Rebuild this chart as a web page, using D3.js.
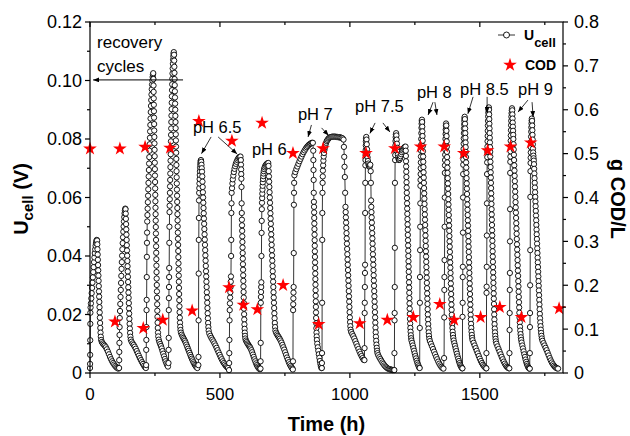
<!DOCTYPE html>
<html>
<head>
<meta charset="utf-8">
<script src="https://cdn.jsdelivr.net/npm/d3@7"></script>
<style>
  body { margin: 0; background: #fff; }
  svg { display: block; }
  text { font-family: "Liberation Sans", Arial, sans-serif; fill: #000; }
</style>
</head>
<body>
<svg id="chart" width="630" height="436"></svg>
<script>
// Cell voltage U_cell (V) versus time (h), one array of [time, voltage] per feeding cycle
const cycle01 = [[0,0.0017],[0.3,0.0031],[0.6,0.0062],[0.9,0.0112],[1.2,0.0168],[1.5,0.0206],[2.2,0.0224],
  [3.5,0.0238],[5,0.0255],[6.5,0.0273],[8,0.0291],[9.5,0.0309],[11,0.0327],[12.5,0.0345],[14,0.0362],[15.5,0.0379],[17,0.0395],[18.5,0.0410],[20,0.0423],[21.5,0.0435],[23,0.0444],[24.5,0.0451],[26,0.0455],[27.3,0.0453],
  [28.2,0.0440],[28.9,0.0423],[29.6,0.0405],[30.3,0.0387],[31,0.0369],[31.7,0.0351],[32.4,0.0333],[33.1,0.0315],[33.8,0.0297],[34.5,0.0279],[35.2,0.0261],[35.9,0.0243],[36.6,0.0225],[37.3,0.0207],[38,0.0189],[38.8,0.0171],[39.6,0.0154],[40.5,0.0138],[41.6,0.0124],[43,0.0113],
  [45.5,0.0106],[49,0.0101],[53,0.0097],[57,0.0093],[61,0.0088],[65,0.0081],[69,0.0073],[73,0.0064],[77,0.0055],[81,0.0047],[85,0.0040],[89,0.0034],[93,0.0029],[97,0.0024],[101,0.0020],[105,0.0017],[109,0.0015]];
const cycle02 = [[112,0.0017],[112.4,0.0044],[112.8,0.0072],[113.2,0.0103],[113.6,0.0130],[114,0.0157],[114.5,0.0188],
  [115.5,0.0212],[116.5,0.0236],[117.5,0.0260],[118.5,0.0284],[119.5,0.0308],[120.5,0.0332],[121.5,0.0356],[122.5,0.0379],[123.6,0.0401],[124.7,0.0423],[125.8,0.0444],[127,0.0464],[128.2,0.0483],[129.4,0.0501],[130.6,0.0518],[131.8,0.0533],[133,0.0546],[134.3,0.0556],[135.6,0.0562],
  [136.8,0.0560],[137.5,0.0545],[138.2,0.0527],[138.9,0.0509],[139.6,0.0491],[140.3,0.0473],[141,0.0455],[141.7,0.0437],[142.4,0.0419],[143.1,0.0401],[143.8,0.0383],[144.5,0.0365],[145.2,0.0347],[145.9,0.0329],[146.6,0.0311],[147.3,0.0293],[148,0.0275],[148.7,0.0257],[149.4,0.0239],[150.1,0.0221],[150.8,0.0203],[151.6,0.0185],[152.4,0.0168],[153.3,0.0152],[154.3,0.0137],[155.5,0.0124],[157,0.0114],
  [160,0.0107],[164,0.0101],[168,0.0096],[172,0.0090],[176,0.0083],[180,0.0075],[184,0.0067],[188,0.0059],[192,0.0051],[196,0.0044],[200,0.0037],[204,0.0031],[208,0.0025],[212,0.0020],[215,0.0017]];
const cycle03 = [[216,0.0027],[216.4,0.0079],[216.8,0.0113],[217.2,0.0157],[217.6,0.0215],[218,0.0250],[218.4,0.0328],[218.8,0.0397],[219.2,0.0445],[219.6,0.0480],
  [220.2,0.0518],[221,0.0540],[221.8,0.0562],[222.6,0.0584],[223.4,0.0606],[224.2,0.0628],[225,0.0650],[225.8,0.0672],[226.6,0.0694],[227.4,0.0716],[228.2,0.0738],[229,0.0760],[229.8,0.0782],[230.6,0.0804],[231.4,0.0826],[232.2,0.0848],[233,0.0870],[233.8,0.0892],[234.7,0.0913],[235.6,0.0933],[236.6,0.0952],[237.6,0.0970],[238.7,0.0986],[239.8,0.1000],[241,0.1012],[242.2,0.1021],[243.3,0.1025],
  [244,0.1005],[244.4,0.0983],[244.8,0.0961],[245.2,0.0939],[245.6,0.0917],[246,0.0895],[246.4,0.0873],[246.8,0.0851],[247.2,0.0829],[247.6,0.0807],[248,0.0785],[248.4,0.0763],[248.8,0.0741],[249.2,0.0719],[249.6,0.0697],[250,0.0675],[250.4,0.0653],[250.8,0.0631],[251.2,0.0609],[251.6,0.0587],[252,0.0565],[252.4,0.0543],[252.8,0.0521],[253.2,0.0499],[253.6,0.0477],[254,0.0455],[254.4,0.0433],[254.8,0.0411],[255.2,0.0389],[255.6,0.0367],[256,0.0345],[256.5,0.0323],[257,0.0301],[257.5,0.0279],[258,0.0257],[258.5,0.0235],[259,0.0213],[259.6,0.0192],[260.2,0.0172],[260.9,0.0154],[261.7,0.0138],[262.6,0.0125],
  [264.5,0.0114],[267,0.0106],[270,0.0099],[273,0.0092],[276,0.0084],[279,0.0075],[282,0.0066],[285,0.0057],[288,0.0048],[291,0.0040],[294,0.0033],[297,0.0027],[300,0.0022]];
const cycle04 = [[302,0.0034],[302.4,0.0079],[302.8,0.0120],[303.2,0.0215],[303.6,0.0256],[304,0.0294],[304.4,0.0328],[304.8,0.0359],[305.2,0.0445],[305.6,0.0500],[306,0.0550],
  [306.5,0.0572],[307,0.0594],[307.5,0.0616],[308,0.0638],[308.5,0.0660],[309,0.0682],[309.5,0.0704],[310,0.0726],[310.5,0.0748],[311,0.0770],[311.5,0.0792],[312,0.0814],[312.5,0.0836],[313,0.0858],[313.5,0.0880],[314,0.0902],[314.5,0.0924],[315,0.0946],[315.6,0.0967],[316.2,0.0987],[316.8,0.1006],[317.5,0.1024],[318.2,0.1041],[319,0.1057],[319.8,0.1071],[320.7,0.1083],[321.6,0.1092],[322.5,0.1097],
  [323.5,0.1088],[324,0.1068],[324.5,0.1047],[325,0.1026],[325.5,0.1005],[326,0.0984],[326.5,0.0963],[327,0.0942],[327.5,0.0921],[328,0.0900],[328.5,0.0879],[329,0.0858],[329.5,0.0837],[330,0.0816],[330.5,0.0795],[331,0.0774],[331.5,0.0753],[332,0.0732],[332.5,0.0711],[333,0.0690],[333.5,0.0669],[334,0.0648],[334.5,0.0627],[335,0.0606],[335.5,0.0585],[336,0.0564],[336.5,0.0543],[337,0.0522],[337.5,0.0501],[338,0.0480],[338.5,0.0459],[339,0.0438],[339.5,0.0417],[340,0.0396],[340.5,0.0375],[341,0.0354],[341.5,0.0333],[342,0.0312],[342.5,0.0291],[343,0.0270],[343.6,0.0249],[344.2,0.0228],[344.8,0.0208],[345.5,0.0189],[346.3,0.0172],[347.2,0.0158],[348.2,0.0147],
  [350,0.0138],[353,0.0131],[356,0.0125],[359,0.0120],[362,0.0115],[365,0.0110],[368,0.0104],[371,0.0097],[374,0.0090],[377,0.0083],[380,0.0076],[383,0.0069],[386,0.0062],[389,0.0055],[392,0.0049],[395,0.0043],[398,0.0037],[401,0.0032],[404,0.0027],[407,0.0023],[410,0.0020],[413,0.0017]];
const cycle05 = [[417,0.0027],[417.4,0.0055],[417.8,0.0180],[418.2,0.0340],[418.6,0.0455],[419,0.0530],[419.4,0.0590],
  [420,0.0616],[420.6,0.0632],[421.2,0.0648],[421.8,0.0663],[422.4,0.0677],[423,0.0690],[423.7,0.0702],[424.4,0.0712],[425.2,0.0720],[426,0.0726],[427,0.0728],
  [428,0.0722],[429,0.0712],[430,0.0700],[431,0.0688],[432,0.0672],[432.8,0.0654],[433.6,0.0636],[434.4,0.0618],[435.2,0.0600],[436,0.0582],[436.8,0.0564],[437.6,0.0546],[438.4,0.0528],[439.2,0.0510],[440,0.0492],[440.8,0.0474],[441.6,0.0456],[442.4,0.0438],[443.2,0.0420],[444,0.0402],[444.8,0.0384],[445.6,0.0366],[446.4,0.0348],[447.2,0.0330],[448,0.0312],[448.8,0.0294],[449.6,0.0276],[450.4,0.0258],[451.2,0.0240],[452,0.0222],[452.8,0.0204],[453.6,0.0187],[454.5,0.0171],[455.5,0.0157],[456.6,0.0145],
  [459,0.0135],[463,0.0127],[467,0.0120],[471,0.0114],[475,0.0108],[479,0.0101],[483,0.0094],[487,0.0086],[491,0.0078],[495,0.0070],[499,0.0062],[503,0.0054],[507,0.0047],[511,0.0040],[515,0.0034],[519,0.0029],[523,0.0024],[527,0.0020],[531,0.0017]];
const cycle06 = [[535,0.0010],[535.5,0.0034],[536,0.0068],[536.5,0.0113],[537,0.0180],[537.6,0.0215],[538.4,0.0238],[539.2,0.0258],[540,0.0276],[540.8,0.0294],[541.6,0.0312],[542.4,0.0330],[543,0.0400],[543.5,0.0455],[544,0.0547],[544.5,0.0580],
  [545,0.0616],[546.5,0.0632],[548,0.0648],[549.5,0.0662],[551.5,0.0675],[553.5,0.0687],[556,0.0698],[558.5,0.0707],[561,0.0715],[564,0.0722],[567,0.0728],[570,0.0733],[573,0.0737],[576,0.0739],[579,0.0740],
  [580.5,0.0728],[581,0.0712],[581.5,0.0696],[582,0.0680],[582.5,0.0664],[583,0.0636],[583.5,0.0580],[584,0.0547],[584.5,0.0524],[585,0.0505],[585.5,0.0486],[586,0.0467],[586.5,0.0448],[587,0.0429],[587.5,0.0410],[588,0.0391],[588.5,0.0372],[589,0.0353],[589.5,0.0334],[590,0.0315],[590.5,0.0296],[591,0.0277],[591.5,0.0258],[592,0.0239],[592.5,0.0220],[593,0.0201],[593.6,0.0183],[594.2,0.0166],[594.9,0.0151],[595.7,0.0138],[596.6,0.0127],[597.6,0.0118],
  [600,0.0111],[603,0.0106],[606,0.0101],[609,0.0097],[612,0.0093],[615,0.0089],[618,0.0084],[621,0.0078],[624,0.0071],[627,0.0063],[630,0.0055],[633,0.0047],[636,0.0040],[639,0.0033],[642,0.0027],[645,0.0022],[648,0.0018],[651,0.0015],[654,0.0013]];
const cycle07 = [[656,0.0015],[656.4,0.0040],[656.8,0.0103],[657.2,0.0240],[657.7,0.0260],[658.2,0.0277],[658.7,0.0294],[659.2,0.0310],[659.7,0.0400],[660.2,0.0479],[660.7,0.0520],[661.2,0.0560],
  [661.8,0.0582],[662.4,0.0598],[663,0.0613],[663.6,0.0627],[664.3,0.0640],[665,0.0652],[665.8,0.0663],[666.6,0.0673],[667.5,0.0682],[668.5,0.0690],[670,0.0697],[672,0.0703],[674.5,0.0708],[677,0.0712],[680,0.0715],[683,0.0717],[686,0.0718],
  [687,0.0708],[687.8,0.0690],[688.6,0.0672],[689.4,0.0654],[690.2,0.0636],[691,0.0618],[691.8,0.0600],[692.6,0.0582],[693.4,0.0564],[694.2,0.0546],[695,0.0528],[695.8,0.0510],[696.6,0.0492],[697.4,0.0474],[698.2,0.0456],[699,0.0438],[699.8,0.0420],[700.6,0.0402],[701.4,0.0384],[702.2,0.0366],[703,0.0348],[703.8,0.0330],[704.6,0.0312],[705.4,0.0294],[706.2,0.0276],[707,0.0258],[707.8,0.0240],[708.6,0.0222],[709.4,0.0204],[710.3,0.0187],[711.2,0.0171],[712.2,0.0157],[713.3,0.0145],
  [716,0.0138],[719.5,0.0132],[723,0.0127],[726.5,0.0122],[730,0.0117],[733.5,0.0111],[737,0.0104],[740.5,0.0096],[744,0.0088],[747.5,0.0080],[751,0.0071],[754.5,0.0062],[758,0.0053],[761.5,0.0045],[765,0.0037],[768.5,0.0030],[772,0.0024],[775.5,0.0019],[779,0.0015]];
const cycle08 = [[780.5,0.0012],[781,0.0040],[781.5,0.0215],[782,0.0235],[782.5,0.0255],[783,0.0275],[783.5,0.0294],[784,0.0410],[784.5,0.0575],[785,0.0616],[785.5,0.0650],
  [786.5,0.0676],[790,0.0687],[794,0.0697],[798,0.0706],[802,0.0715],[806,0.0724],[810,0.0732],[814,0.0740],[818,0.0748],[822,0.0755],[826,0.0761],[830,0.0767],[834,0.0772],[838,0.0776],[842,0.0780],[846,0.0783],[850,0.0785],[854,0.0787],[857.5,0.0787],
  [859,0.0760],[859.5,0.0728],[860,0.0694],[860.5,0.0660],[861,0.0616],[861.5,0.0585],[862,0.0568],[862.4,0.0549],[862.8,0.0530],[863.2,0.0511],[863.6,0.0492],[864,0.0473],[864.4,0.0454],[864.8,0.0435],[865.2,0.0416],[865.6,0.0397],[866,0.0378],[866.4,0.0359],[866.8,0.0340],[867.2,0.0321],[867.6,0.0302],[868,0.0283],[868.4,0.0264],[868.8,0.0245],[869.2,0.0226],[869.6,0.0207],[870,0.0188],[870.5,0.0170],[871,0.0153],[871.6,0.0138],[872.3,0.0125],[873,0.0113],
  [874.5,0.0100],[876.5,0.0088],[878.5,0.0076],[880.5,0.0064],[882.5,0.0052],[884.5,0.0041],[886.5,0.0031],[888.5,0.0023],[890.5,0.0017]];
const cycle09 = [[892,0.0017],[892.4,0.0034],[892.8,0.0068],[893.2,0.0240],[893.6,0.0455],[894,0.0547],[894.5,0.0616],
  [895,0.0650],[895.6,0.0672],[896.2,0.0692],[897,0.0710],[898,0.0726],[899.2,0.0740],[900.6,0.0752],[902.2,0.0763],[904,0.0772],[906,0.0780],[908.5,0.0787],[911,0.0793],[914,0.0797],[917,0.0801],[920,0.0804],[924,0.0806],[928,0.0807],[932,0.0808],[936,0.0808],[940,0.0808],[944,0.0808],[948,0.0807],[952,0.0807],[956,0.0806],[960,0.0806],[964,0.0805],[968,0.0804],[972,0.0802],[975.5,0.0798],
  [977,0.0773],[978.2,0.0739],[979.4,0.0705],[980.6,0.0670],[981.8,0.0616],[983,0.0568],[983.8,0.0550],[984.6,0.0532],[985.4,0.0514],[986.2,0.0496],[987,0.0478],[987.8,0.0460],[988.6,0.0442],[989.4,0.0424],[990.2,0.0406],[991,0.0388],[991.8,0.0370],[992.6,0.0352],[993.4,0.0334],[994.2,0.0316],[995,0.0298],[995.8,0.0280],[996.6,0.0262],[997.4,0.0244],[998.2,0.0226],[999,0.0208],[999.8,0.0190],[1000.7,0.0174],[1001.7,0.0160],[1002.8,0.0148],
  [1005,0.0140],[1009,0.0133],[1013,0.0126],[1017,0.0118],[1021,0.0109],[1025,0.0100],[1029,0.0091],[1033,0.0082],[1037,0.0073],[1041,0.0065],[1045,0.0058],[1049,0.0051],[1053,0.0045]];
const cycle10 = [[1056,0.0044],[1056.4,0.0085],[1056.8,0.0205],[1057.2,0.0240],[1057.6,0.0294],[1058,0.0342],[1058.4,0.0370],[1058.8,0.0547],[1059.2,0.0650],
  [1059.6,0.0710],[1060,0.0728],[1060.4,0.0745],[1060.8,0.0762],[1061.2,0.0778],[1061.6,0.0792],[1062.2,0.0802],[1063,0.0807],
  [1064,0.0798],[1065,0.0782],[1066,0.0765],[1067,0.0750],[1068.2,0.0737],[1069.5,0.0725],[1071,0.0716],[1072.5,0.0710],[1074,0.0706],[1075.5,0.0705],[1077,0.0708],[1078.5,0.0712],
  [1080,0.0690],[1080.8,0.0650],[1081.6,0.0590],[1082.4,0.0568],[1083.1,0.0550],[1083.8,0.0532],[1084.5,0.0514],[1085.2,0.0496],[1085.9,0.0478],[1086.6,0.0460],[1087.3,0.0442],[1088,0.0424],[1088.7,0.0406],[1089.4,0.0388],[1090.1,0.0370],[1090.8,0.0352],[1091.5,0.0334],[1092.2,0.0316],[1092.9,0.0298],[1093.6,0.0280],[1094.3,0.0262],[1095,0.0244],[1095.7,0.0226],[1096.4,0.0208],[1097.1,0.0190],[1097.8,0.0172],[1098.5,0.0155],[1099.3,0.0139],[1100.2,0.0124],[1101.2,0.0110],[1102.3,0.0097],[1103.5,0.0086],[1104.8,0.0076],[1106.2,0.0068],
  [1109,0.0061],[1113,0.0054],[1117,0.0048],[1121,0.0042],[1125,0.0036],[1129,0.0031],[1133,0.0026],[1137,0.0022],[1141,0.0019],[1145,0.0016],[1149,0.0014],[1153,0.0013],[1157,0.0012],[1161,0.0011],[1165,0.0010],[1169,0.0010]];
const cycle11 = [[1171,0.0010],[1171.4,0.0068],[1171.8,0.0180],[1172.2,0.0205],[1172.6,0.0294],[1173,0.0428],[1173.4,0.0650],
  [1174,0.0728],[1174.4,0.0745],[1174.8,0.0762],[1175.2,0.0778],[1175.6,0.0793],[1176.2,0.0806],[1177,0.0815],[1178,0.0820],
  [1179,0.0812],[1180,0.0798],[1181,0.0784],[1182,0.0770],[1183.2,0.0757],[1184.5,0.0746],[1186,0.0737],[1187.5,0.0731],[1189,0.0728],
  [1191,0.0730],[1193,0.0735],[1195,0.0741],[1197.5,0.0748],[1200,0.0755],[1202.5,0.0761],[1205,0.0766],[1208,0.0770],[1211,0.0773],[1214,0.0774],
  [1215,0.0760],[1215.5,0.0742],[1216,0.0724],[1216.5,0.0706],[1217,0.0688],[1217.5,0.0670],[1218,0.0652],[1218.5,0.0634],[1219,0.0616],[1219.5,0.0598],[1220,0.0580],[1220.5,0.0562],[1221,0.0544],[1221.5,0.0526],[1222,0.0508],[1222.5,0.0490],[1223,0.0472],[1223.5,0.0454],[1224,0.0436],[1224.5,0.0418],[1225,0.0400],[1225.5,0.0382],[1226,0.0364],[1226.5,0.0346],[1227,0.0328],[1227.5,0.0310],[1228,0.0292],[1228.5,0.0274],[1229,0.0256],[1229.5,0.0238],[1230,0.0220],[1230.6,0.0202],[1231.2,0.0185],[1231.9,0.0169],[1232.7,0.0154],[1233.6,0.0141],[1234.6,0.0129],[1235.7,0.0119],[1237,0.0111],
  [1239.5,0.0103],[1242,0.0094],[1244.5,0.0085],[1247,0.0076],[1249.5,0.0067],[1252,0.0058],[1254.5,0.0050],[1257,0.0042],[1259.5,0.0035],[1262,0.0029],[1264.5,0.0023],[1267,0.0018]];
const cycle12 = [[1268.5,0.0017],[1269,0.0154],[1269.4,0.0240],[1269.8,0.0328],[1270.2,0.0420],[1270.6,0.0500],[1271,0.0580],
  [1271.4,0.0640],[1271.8,0.0660],[1272.2,0.0680],[1272.6,0.0700],[1273,0.0720],[1273.4,0.0740],[1273.8,0.0760],[1274.2,0.0780],[1274.6,0.0800],[1275,0.0820],[1275.5,0.0838],[1276,0.0852],[1276.6,0.0862],[1277.3,0.0866],
  [1278,0.0858],[1278.5,0.0842],[1279,0.0826],[1279.5,0.0810],[1280,0.0794],[1280.6,0.0776],[1281.2,0.0758],[1281.8,0.0740],[1282.4,0.0722],[1283,0.0704],[1283.6,0.0686],[1284.2,0.0668],[1284.8,0.0650],[1285.4,0.0632],[1286,0.0614],[1286.6,0.0596],[1287.2,0.0578],[1287.8,0.0560],[1288.4,0.0542],[1289,0.0524],[1289.6,0.0506],[1290.2,0.0488],[1290.8,0.0470],[1291.4,0.0452],[1292,0.0434],[1292.6,0.0416],[1293.2,0.0398],[1293.8,0.0380],[1294.4,0.0362],[1295,0.0344],[1295.6,0.0326],[1296.2,0.0308],[1296.8,0.0290],[1297.4,0.0272],[1298,0.0254],[1298.6,0.0236],[1299.2,0.0218],[1299.9,0.0200],[1300.6,0.0183],[1301.4,0.0167],[1302.3,0.0152],[1303.3,0.0139],[1304.4,0.0127],[1305.6,0.0117],
  [1308,0.0109],[1312,0.0100],[1316,0.0091],[1320,0.0082],[1324,0.0073],[1328,0.0064],[1332,0.0055],[1336,0.0047],[1340,0.0039],[1344,0.0032],[1348,0.0026],[1352,0.0021],[1356,0.0017],[1360,0.0015]];
const cycle13 = [[1362.5,0.0051],[1363,0.0190],[1363.4,0.0284],[1363.8,0.0328],[1364.2,0.0386],[1364.6,0.0500],[1365,0.0600],[1365.4,0.0684],
  [1365.8,0.0710],[1366.2,0.0728],[1366.6,0.0746],[1367,0.0764],[1367.4,0.0782],[1367.8,0.0800],[1368.3,0.0817],[1368.8,0.0832],[1369.4,0.0845],[1370,0.0853],
  [1371,0.0846],[1371.5,0.0828],[1372,0.0810],[1372.5,0.0792],[1373,0.0774],[1373.5,0.0756],[1374,0.0738],[1374.6,0.0720],[1375.2,0.0702],[1375.8,0.0684],[1376.4,0.0666],[1377,0.0648],[1377.6,0.0630],[1378.2,0.0612],[1378.8,0.0594],[1379.4,0.0576],[1380,0.0558],[1380.6,0.0540],[1381.2,0.0522],[1381.8,0.0504],[1382.4,0.0486],[1383,0.0468],[1383.6,0.0450],[1384.2,0.0432],[1384.8,0.0414],[1385.4,0.0396],[1386,0.0378],[1386.6,0.0360],[1387.2,0.0342],[1387.8,0.0324],[1388.4,0.0306],[1389,0.0288],[1389.6,0.0270],[1390.2,0.0252],[1390.8,0.0234],[1391.4,0.0216],[1392.1,0.0199],[1392.8,0.0183],[1393.6,0.0168],[1394.5,0.0154],[1395.5,0.0141],[1396.6,0.0130],[1397.8,0.0120],
  [1399.5,0.0111],[1402,0.0102],[1404.5,0.0093],[1407,0.0084],[1409.5,0.0075],[1412,0.0066],[1414.5,0.0057],[1417,0.0049],[1419.5,0.0041],[1422,0.0034],[1424.5,0.0028],[1427,0.0023],[1429.5,0.0019],[1432,0.0016]];
const cycle14 = [[1433,0.0016],[1433.4,0.0192],[1433.8,0.0240],[1434.2,0.0328],[1434.6,0.0363],[1435,0.0480],[1435.4,0.0600],[1435.8,0.0680],
  [1436.2,0.0712],[1436.6,0.0730],[1437,0.0748],[1437.4,0.0766],[1437.8,0.0784],[1438.2,0.0802],[1438.7,0.0820],[1439.2,0.0836],[1439.8,0.0850],[1440.4,0.0862],[1441,0.0871],[1441.7,0.0876],
  [1442.5,0.0868],[1443,0.0852],[1443.5,0.0836],[1444,0.0820],[1444.5,0.0804],[1445,0.0788],[1445.5,0.0772],[1446,0.0756],[1446.6,0.0738],[1447.2,0.0720],[1447.8,0.0702],[1448.4,0.0684],[1449,0.0666],[1449.6,0.0648],[1450.2,0.0630],[1450.8,0.0612],[1451.4,0.0594],[1452,0.0576],[1452.6,0.0558],[1453.2,0.0540],[1453.8,0.0522],[1454.4,0.0504],[1455,0.0486],[1455.6,0.0468],[1456.2,0.0450],[1456.8,0.0432],[1457.4,0.0414],[1458,0.0396],[1458.6,0.0378],[1459.2,0.0360],[1459.8,0.0342],[1460.4,0.0324],[1461,0.0306],[1461.6,0.0288],[1462.2,0.0270],[1462.8,0.0252],[1463.4,0.0234],[1464,0.0216],[1464.7,0.0199],[1465.4,0.0183],[1466.2,0.0168],[1467.1,0.0154],[1468.1,0.0141],[1469.2,0.0130],[1470.4,0.0120],
  [1472,0.0112],[1476,0.0103],[1480,0.0094],[1484,0.0085],[1488,0.0076],[1492,0.0067],[1496,0.0058],[1500,0.0049],[1504,0.0041],[1508,0.0034],[1512,0.0028],[1516,0.0023],[1520,0.0019],[1524,0.0016]];
const cycle15 = [[1525,0.0016],[1525.4,0.0068],[1525.8,0.0274],[1526.2,0.0295],[1526.6,0.0363],[1527,0.0470],[1527.4,0.0580],[1527.8,0.0680],
  [1528.2,0.0720],[1528.6,0.0738],[1529,0.0756],[1529.4,0.0774],[1529.8,0.0792],[1530.2,0.0810],[1530.6,0.0828],[1531,0.0846],[1531.5,0.0862],[1532,0.0877],[1532.6,0.0890],[1533.2,0.0900],[1533.9,0.0906],[1534.7,0.0908],
  [1535.3,0.0900],[1535.8,0.0884],[1536.3,0.0868],[1536.8,0.0852],[1537.3,0.0836],[1537.8,0.0820],[1538.3,0.0804],[1538.8,0.0788],[1539.3,0.0772],[1539.8,0.0756],[1540.3,0.0740],[1540.8,0.0722],[1541.3,0.0704],[1541.8,0.0686],[1542.3,0.0668],[1542.8,0.0650],[1543.3,0.0632],[1543.8,0.0614],[1544.3,0.0596],[1544.8,0.0578],[1545.3,0.0560],[1545.8,0.0542],[1546.3,0.0524],[1546.8,0.0506],[1547.3,0.0488],[1547.8,0.0470],[1548.3,0.0452],[1548.8,0.0434],[1549.3,0.0416],[1549.8,0.0398],[1550.3,0.0380],[1550.8,0.0362],[1551.3,0.0344],[1551.8,0.0326],[1552.3,0.0308],[1552.8,0.0290],[1553.3,0.0272],[1553.8,0.0254],[1554.3,0.0236],[1554.8,0.0218],[1555.4,0.0200],[1556,0.0183],[1556.7,0.0167],[1557.5,0.0152],[1558.4,0.0139],[1559.4,0.0127],[1560.5,0.0117],[1561.7,0.0108],
  [1564,0.0100],[1568,0.0091],[1572,0.0082],[1576,0.0073],[1580,0.0064],[1584,0.0055],[1588,0.0047],[1592,0.0039],[1596,0.0032],[1600,0.0026],[1604,0.0021],[1608,0.0018],[1612,0.0016]];
const cycle16 = [[1613.5,0.0016],[1614,0.0068],[1614.4,0.0147],[1614.8,0.0205],[1615.2,0.0284],[1615.6,0.0342],[1616,0.0450],[1616.4,0.0560],[1616.8,0.0684],
  [1617.2,0.0722],[1617.6,0.0740],[1618,0.0758],[1618.4,0.0776],[1618.8,0.0794],[1619.2,0.0812],[1619.7,0.0830],[1620.2,0.0847],[1620.8,0.0862],[1621.4,0.0876],[1622.1,0.0888],[1622.9,0.0898],[1623.8,0.0905],
  [1624.8,0.0898],[1625.4,0.0884],[1626,0.0870],[1626.6,0.0856],[1627.2,0.0842],[1627.8,0.0828],[1628.4,0.0814],[1629,0.0800],[1629.7,0.0782],[1630.4,0.0764],[1631.1,0.0746],[1631.8,0.0728],[1632.5,0.0710],[1633.2,0.0692],[1633.9,0.0674],[1634.6,0.0656],[1635.3,0.0638],[1636,0.0620],[1636.7,0.0602],[1637.4,0.0584],[1638.1,0.0566],[1638.8,0.0548],[1639.5,0.0530],[1640.2,0.0512],[1640.9,0.0494],[1641.6,0.0476],[1642.3,0.0458],[1643,0.0440],[1643.7,0.0422],[1644.4,0.0404],[1645.1,0.0386],[1645.8,0.0368],[1646.5,0.0350],[1647.2,0.0332],[1647.9,0.0314],[1648.6,0.0296],[1649.3,0.0278],[1650,0.0260],[1650.7,0.0242],[1651.4,0.0224],[1652.1,0.0206],[1652.9,0.0189],[1653.7,0.0173],[1654.6,0.0158],[1655.6,0.0145],[1656.7,0.0133],[1657.9,0.0122],[1659.2,0.0113],
  [1661,0.0104],[1663.5,0.0094],[1666,0.0084],[1668.5,0.0074],[1671,0.0064],[1673.5,0.0055],[1676,0.0046],[1678.5,0.0038],[1681,0.0031],[1683.5,0.0025],[1686,0.0020],[1688.5,0.0017],[1691,0.0015]];
const cycle17 = [[1692,0.0015],[1692.4,0.0068],[1692.8,0.0157],[1693.2,0.0205],[1693.6,0.0300],[1694,0.0420],[1694.4,0.0602],[1694.8,0.0690],
  [1695.2,0.0718],[1695.6,0.0736],[1696,0.0754],[1696.4,0.0772],[1696.8,0.0790],[1697.2,0.0808],[1697.7,0.0825],[1698.2,0.0840],[1698.8,0.0853],[1699.4,0.0863],[1700.1,0.0870],
  [1700.9,0.0862],[1701.5,0.0846],[1702.1,0.0830],[1702.7,0.0814],[1703.3,0.0798],[1703.9,0.0782],[1704.5,0.0767],[1705.2,0.0754],[1706,0.0743],[1706.8,0.0734],[1707.6,0.0726],
  [1708.4,0.0714],[1709.1,0.0698],[1709.8,0.0682],[1710.5,0.0666],[1711.2,0.0650],[1711.9,0.0634],[1712.6,0.0618],[1713.3,0.0602],[1714,0.0586],[1714.7,0.0570],[1715.4,0.0554],[1716.1,0.0538],[1716.8,0.0522],[1717.5,0.0506],[1718.2,0.0490],[1718.9,0.0474],[1719.6,0.0458],[1720.3,0.0442],[1721,0.0426],[1721.7,0.0410],[1722.4,0.0394],[1723.1,0.0378],[1723.8,0.0362],[1724.5,0.0346],[1725.2,0.0330],[1725.9,0.0314],[1726.6,0.0298],[1727.3,0.0282],[1728,0.0266],[1728.7,0.0250],[1729.4,0.0234],[1730.1,0.0218],[1730.9,0.0202],[1731.7,0.0187],[1732.6,0.0173],[1733.6,0.0160],[1734.7,0.0148],[1735.9,0.0137],[1737.2,0.0127],[1738.6,0.0118],
  [1741,0.0110],[1745,0.0102],[1749,0.0094],[1753,0.0086],[1757,0.0078],[1761,0.0069],[1765,0.0060],[1769,0.0051],[1773,0.0043],[1777,0.0036],[1781,0.0030],[1785,0.0025],[1789,0.0021],[1793,0.0018],[1797,0.0016],[1801,0.0015]];

// COD measurements (g COD/L), right axis
const codTime  = [0, 96, 115, 205, 212, 280, 308, 393, 419, 535, 546, 590, 644, 662, 743, 781, 880, 897, 1038, 1062, 1144, 1173, 1244, 1272, 1346, 1363, 1401, 1438, 1503, 1530, 1577, 1618, 1660, 1696, 1805];
const codValue = [0.511, 0.117, 0.511, 0.102, 0.515, 0.121, 0.513, 0.142, 0.574, 0.195, 0.529, 0.155, 0.145, 0.570, 0.200, 0.501, 0.111, 0.512, 0.113, 0.501, 0.121, 0.512, 0.127, 0.516, 0.157, 0.516, 0.121, 0.501, 0.127, 0.507, 0.150, 0.516, 0.127, 0.525, 0.147];

// Axis ticks
const timeTicks  = [0, 500, 1000, 1500];
const timeMinor  = [250, 750, 1250, 1750];
const uTicks     = [0, 0.02, 0.04, 0.06, 0.08, 0.10, 0.12];
const uMinor     = [0.01, 0.03, 0.05, 0.07, 0.09, 0.11];
const codTicks   = [0, 0.1, 0.2, 0.3, 0.4, 0.5, 0.6, 0.7, 0.8];
const codMinor   = [0.05, 0.15, 0.25, 0.35, 0.45, 0.55, 0.65, 0.75];

// pH annotations: label anchor and two arrows, all in data units (time h, U_cell V)
const phLabels = ["pH 6.5", "pH 6", "pH 7", "pH 7.5", "pH 8", "pH 8.5", "pH 9"];
const phLabelPos = [[396, 0.0821], [623, 0.0745], [800, 0.0865], [1020, 0.0892], [1258, 0.0940], [1424, 0.0950], [1647, 0.0950]];
const phArrows = [
  [[[466, 0.0807], [429, 0.0750]], [[493, 0.0807], [566, 0.0749]]],
  [],
  [[[852, 0.0848], [839, 0.0807]], [[891, 0.0838], [918, 0.0812]]],
  [[[1097, 0.0855], [1077, 0.0819]], [[1127, 0.0855], [1154, 0.0824]]],
  [[[1320, 0.0926], [1301, 0.0882]], [[1327, 0.0926], [1335, 0.0882]]],
  [[[1474, 0.0944], [1454, 0.0886]], [[1528, 0.0944], [1528, 0.0889]]],
  [[[1685, 0.0933], [1647, 0.0892]], [[1701, 0.0926], [1705, 0.0875]]]
];
const recoveryText = ["recovery", "cycles"];
const recoveryPos = [[27, 0.1112], [27, 0.1029]];
const recoveryArrow = [[358, 0.1002], [12, 0.1002]];

const svg = d3.select("#chart");
const plotL = 90, plotR = 563, plotT = 22, plotB = 373;

const x = d3.scaleLinear().domain([0, 1820]).range([plotL, plotR]);
const yU = d3.scaleLinear().domain([0, 0.12]).range([plotB, plotT]);
const yC = d3.scaleLinear().domain([0, 0.8]).range([plotB, plotT]);

// arrowhead marker for the annotations
svg.append("defs").append("marker")
  .attr("id", "head").attr("viewBox", "0 0 10 8")
  .attr("refX", 10).attr("refY", 4)
  .attr("markerWidth", 6).attr("markerHeight", 5)
  .attr("markerUnits", "userSpaceOnUse")
  .attr("orient", "auto")
  .append("path").attr("d", "M0,0 L10,4 L0,8 Z").attr("fill", "#000");

// U_cell series: connecting line then open circles
const uPoints = [cycle01, cycle02, cycle03, cycle04, cycle05, cycle06, cycle07, cycle08, cycle09,
  cycle10, cycle11, cycle12, cycle13, cycle14, cycle15, cycle16, cycle17].flat();

const plot = svg.append("g");
plot.append("path")
  .datum(uPoints)
  .attr("fill", "none")
  .attr("stroke", "#000")
  .attr("stroke-width", 0.8)
  .attr("d", d3.line().x(d => x(d[0])).y(d => yU(d[1])));

plot.selectAll("circle.u")
  .data(uPoints)
  .join("circle")
  .attr("class", "u")
  .attr("cx", d => x(d[0]))
  .attr("cy", d => yU(d[1]))
  .attr("r", 2.65)
  .attr("fill", "#fff")
  .attr("stroke", "#000")
  .attr("stroke-width", 0.9);

// COD stars
const star = d3.symbol().type(d3.symbolStar).size(58);
plot.selectAll("path.cod")
  .data(codTime.map((t, i) => [t, codValue[i]]))
  .join("path")
  .attr("class", "cod")
  .attr("transform", d => `translate(${x(d[0])},${yC(d[1])})`)
  .attr("d", star)
  .attr("fill", "#ff0000");

// Axes
const axisG = svg.append("g").attr("stroke", "#000").attr("stroke-width", 1.2);
axisG.append("rect")
  .attr("x", plotL).attr("y", plotT).attr("width", plotR - plotL).attr("height", plotB - plotT)
  .attr("fill", "none");

function ticks(values, f) { values.forEach(v => { const s = f(v); axisG.append("line").attr("x1", s[0]).attr("y1", s[1]).attr("x2", s[2]).attr("y2", s[3]); }); }
// bottom (outward) and top (inward)
ticks(timeTicks, t => [x(t), plotB, x(t), plotB + 5]);
ticks(timeMinor, t => [x(t), plotB, x(t), plotB + 3]);
ticks(timeTicks, t => [x(t), plotT, x(t), plotT + 5]);
ticks(timeMinor, t => [x(t), plotT, x(t), plotT + 3]);
// left (outward)
ticks(uTicks, v => [plotL, yU(v), plotL - 5, yU(v)]);
ticks(uMinor, v => [plotL, yU(v), plotL - 3, yU(v)]);
// right (outward)
ticks(codTicks, v => [plotR, yC(v), plotR + 5, yC(v)]);
ticks(codMinor, v => [plotR, yC(v), plotR + 3, yC(v)]);

const lab = svg.append("g");
lab.selectAll("text.xl").data(timeTicks).join("text")
  .attr("font-size", 17)
  .attr("x", d => x(d)).attr("y", plotB + 27).attr("text-anchor", "middle")
  .text(d => d3.format("d")(d));
lab.selectAll("text.yl").data(uTicks).join("text")
  .attr("font-size", 18)
  .attr("x", plotL - 8).attr("y", d => yU(d)).attr("dy", "0.36em").attr("text-anchor", "end")
  .text(d => d === 0 ? "0" : d.toFixed(2));
lab.selectAll("text.yr").data(codTicks).join("text")
  .attr("font-size", 18)
  .attr("x", plotR + 11).attr("y", d => yC(d)).attr("dy", "0.36em").attr("text-anchor", "start")
  .text(d => d === 0 ? "0" : d.toFixed(1));

// Axis titles
svg.append("text")
  .attr("x", (plotL + plotR) / 2).attr("y", 431)
  .attr("text-anchor", "middle").attr("font-size", 20).attr("font-weight", "bold")
  .text("Time (h)");

const yt = svg.append("text")
  .attr("transform", "translate(28,199) rotate(-90)")
  .attr("text-anchor", "middle").attr("font-weight", "bold").attr("font-size", 20);
yt.append("tspan").text("U");
yt.append("tspan").attr("font-size", 15).attr("dy", 5).text("cell");
yt.append("tspan").attr("dy", -5).text(" (V)");

svg.append("text")
  .attr("transform", "translate(611,199) rotate(90)")
  .attr("text-anchor", "middle").attr("font-weight", "bold").attr("font-size", 20)
  .text("g COD/L");

// Legend
const lg = svg.append("g");
lg.append("line").attr("x1", 498).attr("x2", 515).attr("y1", 35).attr("y2", 35)
  .attr("stroke", "#000").attr("stroke-width", 0.8);
lg.append("circle").attr("cx", 506.5).attr("cy", 35).attr("r", 3)
  .attr("fill", "#fff").attr("stroke", "#000").attr("stroke-width", 0.9);
const lt = lg.append("text").attr("x", 524).attr("y", 40).attr("font-weight", "bold").attr("font-size", 14);
lt.append("tspan").text("U");
lt.append("tspan").attr("font-size", 13).attr("dy", 7).text("cell");
lg.append("path").attr("transform", "translate(510,65)").attr("d", star).attr("fill", "#ff0000");
lg.append("text").attr("x", 525).attr("y", 70).attr("font-weight", "bold").attr("font-size", 14).text("COD");

// Annotations
const ann = svg.append("g").attr("font-size", 16.5);
ann.selectAll("text.ph").data(phLabels).join("text")
  .attr("x", (d, i) => x(phLabelPos[i][0]))
  .attr("y", (d, i) => yU(phLabelPos[i][1]))
  .text(d => d);
phArrows.flat().forEach(a => {
  ann.append("line")
    .attr("x1", x(a[0][0])).attr("y1", yU(a[0][1]))
    .attr("x2", x(a[1][0])).attr("y2", yU(a[1][1]))
    .attr("stroke", "#000").attr("stroke-width", 0.8)
    .attr("marker-end", "url(#head)");
});
ann.selectAll("text.rc").data(recoveryText).join("text")
  .attr("font-size", 17)
  .attr("x", (d, i) => x(recoveryPos[i][0]))
  .attr("y", (d, i) => yU(recoveryPos[i][1]))
  .text(d => d);
ann.append("line")
  .attr("x1", x(recoveryArrow[0][0])).attr("y1", yU(recoveryArrow[0][1]))
  .attr("x2", x(recoveryArrow[1][0])).attr("y2", yU(recoveryArrow[1][1]))
  .attr("stroke", "#000").attr("stroke-width", 1)
  .attr("marker-end", "url(#head)");
</script>
</body>
</html>
